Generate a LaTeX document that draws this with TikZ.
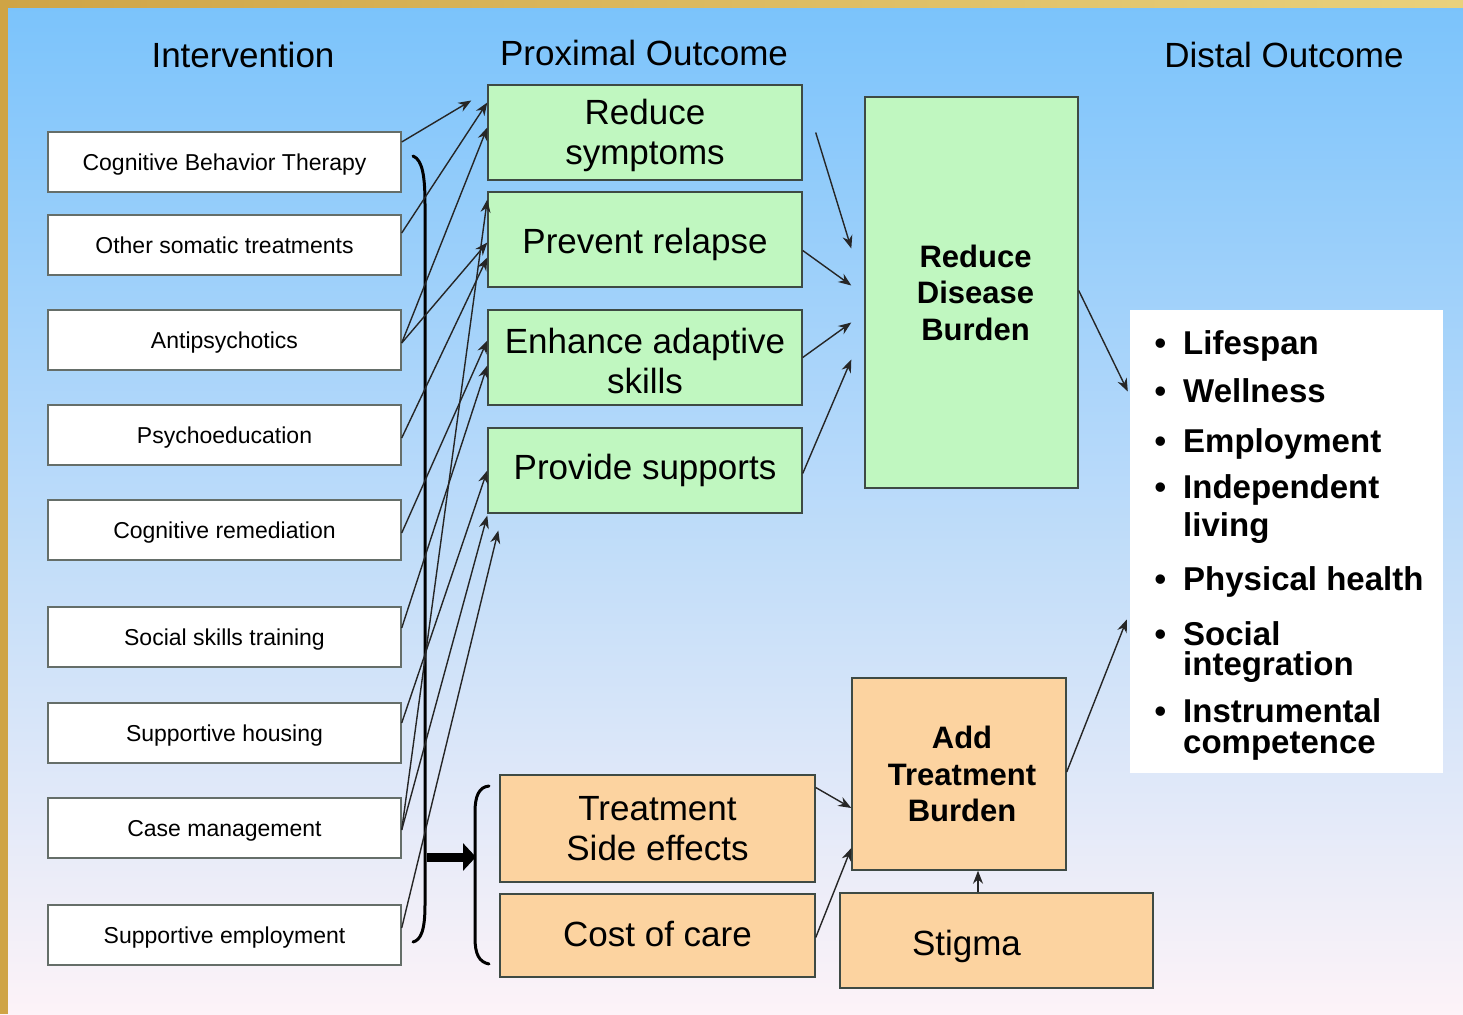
\documentclass[tikz,border=0pt]{standalone}
\usepackage{fontspec}
\setmainfont{Liberation Sans}
\usetikzlibrary{arrows.meta, positioning}

\definecolor{boxline}{HTML}{3E4A44}
\definecolor{proxgreen}{HTML}{C0F7C0}
\definecolor{burdenorange}{HTML}{FCD3A0}
\definecolor{skytop}{HTML}{7AC3FB}
\definecolor{skymid}{HTML}{B9DCF5}
\definecolor{skybottom}{HTML}{FDF3F8}
\definecolor{goldleft}{HTML}{CFA445}
\definecolor{goldright}{HTML}{E9D17C}

\begin{document}
\begin{tikzpicture}[x=1pt, y=-1pt,
    ivbox/.style={rectangle, draw=boxline!80, line width=1.4pt, fill=white, minimum width=353pt, minimum height=60pt, inner sep=0pt, text height=20pt, text depth=4pt, font=\fontsize{23}{27}\selectfont},
    proxbox/.style={rectangle, draw=boxline, line width=1.4pt, fill=proxgreen, minimum width=314pt, inner sep=0pt, align=center, font=\fontsize{35}{40}\selectfont},
    costbox/.style={rectangle, draw=boxline, line width=1.4pt, fill=burdenorange, inner sep=0pt, align=center, font=\fontsize{35}{40}\selectfont},
    bigbold/.style={font=\fontsize{31}{36.5}\bfseries\selectfont},
    head/.style={inner sep=0pt, font=\fontsize{35}{40}\selectfont},
    item/.style={anchor=base west, align=left, inner sep=0pt, font=\fontsize{33}{38}\bfseries\selectfont},
    arrow/.style={-{Stealth[length=13pt, width=10pt]}, line width=1.4pt, draw=black!85}
]
    \useasboundingbox (0,0) rectangle (1463,1014);

    % backdrop and gold frame
    \shade[top color=skytop, middle color=skymid, bottom color=skybottom] (0,0) rectangle (1463,1014);
    \shade[left color=goldleft, right color=goldright] (0,0) rectangle (1463,8);
    \fill[goldleft] (0,0) rectangle (8,1014);

    % column titles
    \node[head] (ivhead) at (243,55) {Intervention};
    \node[head] (proxhead) at (644,53) {Proximal Outcome};
    \node[head] (disthead) at (1284,55) {Distal Outcome};

    % interventions
    \node[ivbox] (cbt) at (224.5,162) {Cognitive Behavior Therapy};
    \node[ivbox] (somatic) at (224.5,245) {Other somatic treatments};
    \node[ivbox] (antipsy) at (224.5,340) {Antipsychotics};
    \node[ivbox] (psyedu) at (224.5,435) {Psychoeducation};
    \node[ivbox] (cogrem) at (224.5,530) {Cognitive remediation};
    \node[ivbox] (social) at (224.5,637) {Social skills training};
    \node[ivbox] (housing) at (224.5,733) {Supportive housing};
    \node[ivbox] (casemgmt) at (224.5,828) {Case management};
    \node[ivbox] (employ) at (224.5,935) {Supportive employment};

    % proximal outcomes
    \node[proxbox, minimum height=95pt] (symptoms) at (645,132.5) {\rule{0pt}{32pt}Reduce\\symptoms};
    \node[proxbox, minimum height=95pt, text height=30pt, text depth=2pt] (relapse) at (645,239.5) {Prevent relapse};
    \node[proxbox, minimum height=95pt] (adaptive) at (645,357.5) {\rule{0pt}{32pt}Enhance adaptive\\skills};
    \node[proxbox, minimum height=85pt, text height=26pt, text depth=8pt] (supports) at (645,470.5) {Provide supports};
    \node[proxbox, bigbold, minimum width=213pt, minimum height=391pt] (disease) at (971.5,292.5) {\hspace*{8pt}Reduce\\\hspace*{8pt}Disease\\\hspace*{8pt}Burden};

    % costs
    \node[costbox, minimum width=315pt, minimum height=107pt] (sidefx) at (657.5,828.5) {Treatment\\Side effects};
    \node[costbox, minimum width=315pt, minimum height=83pt, text height=26pt, text depth=4pt] (cost) at (657.5,935.5) {Cost of care};
    \node[costbox, bigbold, minimum width=214pt, minimum height=192pt] (txburden) at (959,774) {\hspace*{6pt}Add\\\hspace*{6pt}Treatment\\\hspace*{6pt}Burden};
    \node[costbox, minimum width=313pt, minimum height=95pt, text height=30pt, text depth=0pt] (stigma) at (996.5,940.5) {\makebox[313pt][l]{\hspace{72pt}Stigma}};

    % distal outcomes
    \node[fill=white, minimum width=313pt, minimum height=463pt] (distal) at (1286.5,541.5) {};
    \node[item] (lifespan) at (1183,354) {\llap{\textbullet\hspace{17pt}}Lifespan};
    \node[item] (wellness) at (1183,402) {\llap{\textbullet\hspace{17pt}}Wellness};
    \node[item] (employment) at (1183,452) {\llap{\textbullet\hspace{17pt}}Employment};
    \node[item] (living) at (1183,536) {\llap{\textbullet\hspace{17pt}}Independent\\living};
    \node[item] (health) at (1183,590) {\llap{\textbullet\hspace{17pt}}Physical health};
    \node[item] (integration) at (1183,675) {\llap{\textbullet\hspace{17pt}}Social\\[-8pt]integration};
    \node[item] (competence) at (1183,753) {\llap{\textbullet\hspace{17pt}}Instrumental\\[-7pt]competence};

    % brace over the interventions, bracket round the costs
    \draw[line width=3pt, line cap=round] (413,156) .. controls (423,160) and (425,178) .. (425,205) -- (425,905) .. controls (425,930) and (421,940) .. (413,942);
    \draw[line width=3pt, line cap=round] (489,786) .. controls (479,787) and (475,796) .. (475,812) -- (475,938) .. controls (475,954) and (479,962) .. (489,964);
    \coordinate (bracefoot) at (427,857);
    \coordinate (bracketfoot) at (476,857);
    \draw[line width=9pt, -{Triangle[length=13pt, width=27pt]}] (bracefoot) -- (bracketfoot);

    % interventions -> proximal outcomes
    \draw[arrow] ([yshift=20pt]cbt.east) -- ([xshift=-16pt, yshift=32pt]symptoms.west);
    \draw[arrow] ([yshift=12pt]somatic.east) -- ([yshift=30pt]symptoms.west);
    \draw[arrow] ([yshift=-3pt]antipsy.east) -- ([yshift=5pt]symptoms.west);
    \draw[arrow] ([yshift=-3pt]antipsy.east) -- ([yshift=-3pt]relapse.west);
    \draw[arrow] ([yshift=-3pt]psyedu.east) -- ([yshift=-18pt]relapse.west);
    \draw[arrow] ([yshift=-2pt]casemgmt.east) -- ([yshift=40pt]relapse.west);
    \draw[arrow] ([yshift=-3pt]cogrem.east) -- ([yshift=17pt]adaptive.west);
    \draw[arrow] ([yshift=9pt]social.east) -- ([yshift=-8pt]adaptive.west);
    \draw[arrow] ([yshift=10pt]housing.east) -- (supports.west);
    \draw[arrow] ([yshift=-2pt]casemgmt.east) -- ([yshift=-45pt]supports.west);
    \draw[arrow] ([yshift=7pt]employ.east) -- ([xshift=11pt, yshift=-60pt]supports.west);

    % proximal -> disease burden -> distal
    \draw[arrow] ([xshift=13pt]symptoms.east) -- ([xshift=-13pt, yshift=44pt]disease.west);
    \draw[arrow] ([yshift=-11pt]relapse.east) -- ([xshift=-13pt, yshift=7pt]disease.west);
    \draw[arrow] (adaptive.east) -- ([xshift=-13pt, yshift=-30pt]disease.west);
    \draw[arrow] ([yshift=-3pt]supports.east) -- ([xshift=-13pt, yshift=-67pt]disease.west);
    \draw[arrow] ([yshift=2pt]disease.east) -- ([xshift=-2pt, yshift=150pt]distal.west);

    % costs -> treatment burden -> distal
    \draw[arrow] ([yshift=41pt]sidefx.east) -- ([yshift=-34pt]txburden.west);
    \draw[arrow] ([yshift=-2pt]cost.east) -- ([yshift=-74pt]txburden.west);
    \draw[arrow] ([xshift=-18.5pt]stigma.north) -- ([xshift=19pt]txburden.south);
    \draw[arrow] ([yshift=2pt]txburden.east) -- ([xshift=-3pt, yshift=-78pt]distal.west);
\end{tikzpicture}
\end{document}
